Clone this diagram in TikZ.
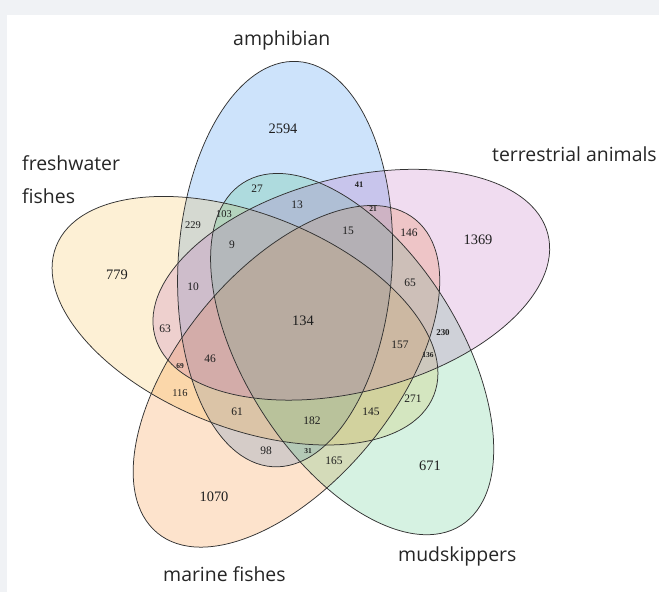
\documentclass[tikz,border=0pt]{standalone}
\usepackage{fontspec}
\setmainfont{Liberation Serif}
\newfontfamily\labelfont{Open Sans}
\usetikzlibrary{calc}
\definecolor{pagegray}{RGB}{240,242,245}
\definecolor{amphC}{RGB}{5,115,235}
\definecolor{terrC}{RGB}{180,80,180}
\definecolor{mudC}{RGB}{50,190,110}
\definecolor{marineC}{RGB}{245,115,0}
\definecolor{freshC}{RGB}{245,180,45}
\definecolor{edgeC}{RGB}{50,50,50}
\definecolor{numC}{RGB}{30,30,30}
\begin{document}
\begin{tikzpicture}[x=1bp,y=1bp,
  setname/.style={font=\labelfont\fontsize{19.5}{22}\selectfont, text=black!85, inner sep=0pt},
  bignum/.style={font=\fontsize{14.5}{16}\selectfont, text=numC, inner sep=0pt},
  midnum/.style={font=\fontsize{11.5}{13}\selectfont, text=numC, inner sep=0pt},
  tinynum/.style={font=\bfseries\fontsize{7.5}{9}\selectfont, text=numC, inner sep=0pt},
  outline/.style={draw=edgeC, line width=0.75bp}]
\useasboundingbox (0,0) rectangle (659,592);
\fill[pagegray] (0,0) rectangle (659,592);
\fill[white] (7,0) rectangle (659,577);
% ellipse fills
\foreach \k/\col in {0/amphC,1/freshC,2/marineC,3/mudC,4/terrC}{
  \begin{scope}[shift={(304,272)}, shift={(108.7+72*\k:59)}, rotate={-3.5+72*\k}]
    \fill[\col, fill opacity=0.2] (0,0) ellipse [x radius=107, y radius=203];
  \end{scope}
}
% outlines
\foreach \k in {0,...,4}{
  \begin{scope}[shift={(304,272)}, shift={(108.7+72*\k:59)}, rotate={-3.5+72*\k}]
    \draw[outline] (0,0) ellipse [x radius=107, y radius=203];
  \end{scope}
}
% set names
\node[setname, anchor=base west] (amph) at (233,546) {amphibian};
\node[setname, anchor=base west] (fresh1) at (22,421) {freshwater};
\node[setname, anchor=base west] (fresh2) at (22,388) {fishes};
\node[setname, anchor=base west] (terr) at (492,430) {terrestrial animals};
\node[setname, anchor=base west] (mud) at (398,30) {mudskippers};
\node[setname, anchor=base west] (marine) at (163,10) {marine fishes};
% counts
\node[bignum] (n2594) at (283,463) {2594};
\node[bignum] (n1369) at (478,352) {1369};
\node[bignum] (n671) at (430,126) {671};
\node[bignum] (n1070) at (214,95) {1070};
\node[bignum] (n779) at (117,317) {779};
\node[bignum] (n134) at (303,271) {134};
\node[midnum] (n27) at (257,403) {27};
\node[midnum] (n13) at (297,387) {13};
\node[tinynum,font=\bfseries\fontsize{8.5}{9}\selectfont] (n41) at (359,407) {41};
\node[tinynum] (n21) at (373,383) {21};
\node[midnum] (n15) at (348,361) {15};
\node[midnum] (n146) at (409,359) {146};
\node[midnum,font=\fontsize{10.5}{12}\selectfont] (n229) at (193,367) {229};
\node[midnum,font=\fontsize{10.5}{12}\selectfont] (n103) at (224,378) {103};
\node[midnum] (n9) at (232,347) {9};
\node[midnum] (n10) at (193,305) {10};
\node[midnum] (n63) at (165,263) {63};
\node[tinynum] (n69) at (180,226) {69};
\node[midnum] (n46) at (210,233) {46};
\node[midnum,font=\fontsize{10.5}{12}\selectfont] (n116) at (180,199) {116};
\node[midnum] (n61) at (237,180) {61};
\node[midnum] (n98) at (266,141) {98};
\node[tinynum] (n31) at (308,141) {31};
\node[midnum] (n182) at (312,171) {182};
\node[midnum] (n165) at (334,131) {165};
\node[midnum] (n145) at (371,180) {145};
\node[midnum] (n271) at (413,193) {271};
\node[midnum] (n157) at (400,247) {157};
\node[tinynum] (n136) at (428,237) {136};
\node[tinynum,font=\bfseries\fontsize{9}{10}\selectfont] (n230) at (443,259) {230};
\node[midnum] (n65) at (410,309) {65};
\end{tikzpicture}
\end{document}
